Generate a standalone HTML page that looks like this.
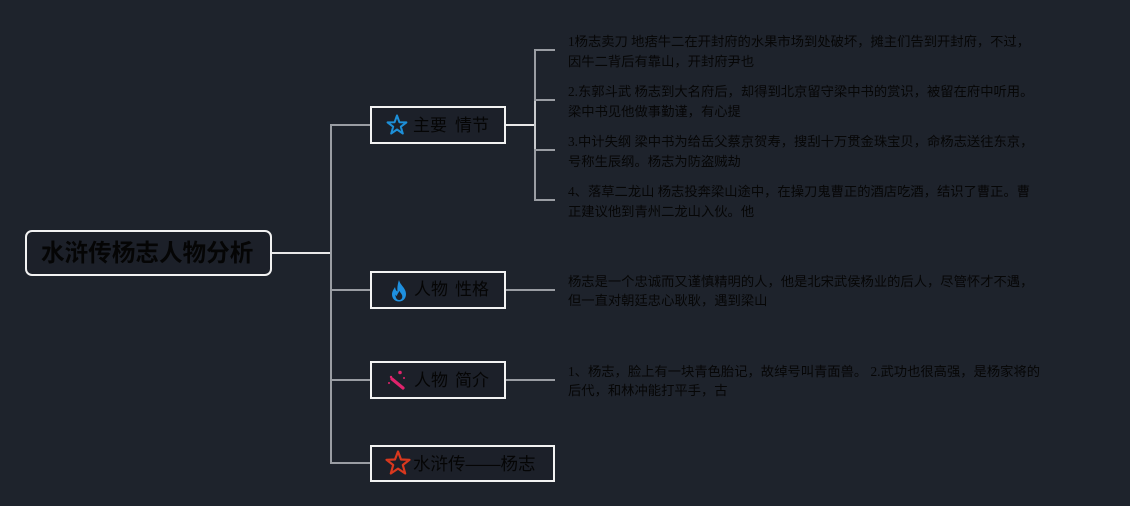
<!DOCTYPE html>
<html>
<head>
<meta charset="utf-8">
<style>
  html,body{margin:0;padding:0;}
  body{width:1130px;height:506px;background:#1e232c;position:relative;overflow:hidden;
    font-family:"Liberation Sans","Noto Sans CJK SC",sans-serif;}
  .box{position:absolute;border:2px solid #f2f2f2;box-sizing:border-box;background:#1c2029;}
  .t{position:absolute;white-space:nowrap;color:#050505;}
  .w{position:absolute;font-size:17px;line-height:20px;color:#050505;white-space:nowrap;
     font-family:"Liberation Sans","Noto Sans CJK SC",sans-serif;}
  .p{position:absolute;font-size:13.3px;white-space:nowrap;color:#060606;
     font-family:"Liberation Serif","Noto Sans CJK SC",sans-serif;}
</style>
</head>
<body>
<svg width="1130" height="506" style="position:absolute;left:0;top:0" xmlns="http://www.w3.org/2000/svg">
  <g fill="none" stroke-width="2">
    <line x1="272" y1="253" x2="332" y2="253" stroke="#e8e8e8"/>
    <line x1="331" y1="124" x2="331" y2="464" stroke="#9a9da3"/>
    <line x1="330" y1="125" x2="371" y2="125" stroke="#9a9da3"/>
    <line x1="330" y1="290" x2="371" y2="290" stroke="#9a9da3"/>
    <line x1="330" y1="380" x2="371" y2="380" stroke="#9a9da3"/>
    <line x1="330" y1="463" x2="371" y2="463" stroke="#9a9da3"/>
    <line x1="505" y1="125" x2="536" y2="125" stroke="#e8e8e8"/>
    <line x1="535" y1="49" x2="535" y2="201" stroke="#9a9da3"/>
    <line x1="535" y1="100" x2="535" y2="150" stroke="#c8cacd"/>
    <line x1="534" y1="50" x2="555" y2="50" stroke="#9a9da3"/>
    <line x1="534" y1="100" x2="555" y2="100" stroke="#9a9da3"/>
    <line x1="534" y1="150" x2="555" y2="150" stroke="#9a9da3"/>
    <line x1="534" y1="200" x2="555" y2="200" stroke="#9a9da3"/>
    <line x1="505" y1="290" x2="555" y2="290" stroke="#9a9da3"/>
    <line x1="505" y1="380" x2="555" y2="380" stroke="#9a9da3"/>
  </g>
</svg>

<!-- root -->
<div class="box" style="left:25px;top:230px;width:247px;height:46px;border-radius:7px;"></div>
<div class="t" style="left:41px;top:239px;font-size:23.6px;line-height:30px;font-weight:bold;">水浒传杨志人物分析</div>

<!-- box 1 -->
<div class="box" style="left:370px;top:106px;width:136px;height:38px;"></div>
<svg width="24" height="24" style="position:absolute;left:385px;top:113px" viewBox="0 0 24 24">
  <polygon points="12,2.5 14.4,9.2 21.4,9.4 15.8,13.7 17.8,20.5 12,16.5 6.2,20.5 8.2,13.7 2.6,9.4 9.6,9.2" fill="none" stroke="#1d8fd8" stroke-width="2" stroke-linejoin="round"/>
</svg>
<div class="w" style="left:413px;top:116px;">主要</div>
<div class="w" style="left:455px;top:116px;">情节</div>

<!-- box 2 -->
<div class="box" style="left:370px;top:271px;width:136px;height:38px;"></div>
<svg width="20" height="24" style="position:absolute;left:389px;top:279px" viewBox="0 0 20 24">
  <path d="M10 1 C11 6 17 9 17 15 C17 19.5 14 22.5 10 22.5 C6 22.5 3 19.5 3 15.5 C3 12 5 10 6 8 C6.5 11 7.5 12 8.5 12.5 C8 8 9 4 10 1 Z M10 21 C12 21 13.3 19.6 13.3 17.6 C13.3 15.2 11 13.5 10.2 11.8 C9.8 14 8 15 8 17 C7 16.5 6.7 16 6.5 15.5 C6.3 16.5 6.7 21 10 21 Z" fill="#1e90e0" fill-rule="evenodd"/>
</svg>
<div class="w" style="left:414px;top:280px;">人物</div>
<div class="w" style="left:455px;top:280px;">性格</div>

<!-- box 3 -->
<div class="box" style="left:370px;top:361px;width:136px;height:38px;"></div>
<svg width="22" height="22" style="position:absolute;left:386px;top:369px" viewBox="0 0 22 22">
  <line x1="6" y1="10" x2="17" y2="19" stroke="#e0236c" stroke-width="3.2" stroke-linecap="round"/>
  <circle cx="14" cy="3.5" r="1.8" fill="#e0236c"/>
  <circle cx="5" cy="8" r="1.2" fill="#e0236c"/>
  <circle cx="18" cy="9" r="1" fill="#e0236c"/>
  <circle cx="3" cy="14" r="1" fill="#e0236c"/>
</svg>
<div class="w" style="left:414px;top:371px;">人物</div>
<div class="w" style="left:455px;top:371px;">简介</div>

<!-- box 4 -->
<div class="box" style="left:370px;top:445px;width:185px;height:37px;"></div>
<svg width="28" height="28" style="position:absolute;left:384px;top:449px" viewBox="0 0 28 28">
  <polygon points="14,2.5 17,10.5 25.5,10.8 18.8,16 21.2,24.5 14,19.6 6.8,24.5 9.2,16 2.5,10.8 11,10.5" fill="none" stroke="#d9381e" stroke-width="2.2" stroke-linejoin="round"/>
</svg>
<div class="w" style="left:413px;top:454px;font-size:17.5px;">水浒传——杨志</div>

<!-- right texts -->
<div class="p" style="left:568px;top:32px;line-height:20px;">1杨志卖刀 地痞牛二在开封府的水果市场到处破坏，摊主们告到开封府，不过，<br>因牛二背后有靠山，开封府尹也</div>
<div class="p" style="left:568px;top:82px;line-height:20px;">2.东郭斗武 杨志到大名府后，却得到北京留守梁中书的赏识，被留在府中听用。<br>梁中书见他做事勤谨，有心提</div>
<div class="p" style="left:568px;top:132px;line-height:20px;">3.中计失纲 梁中书为给岳父蔡京贺寿，搜刮十万贯金珠宝贝，命杨志送往东京，<br>号称生辰纲。杨志为防盗贼劫</div>
<div class="p" style="left:568px;top:182px;line-height:20px;">4、落草二龙山 杨志投奔梁山途中，在操刀鬼曹正的酒店吃酒，结识了曹正。曹<br>正建议他到青州二龙山入伙。他</div>
<div class="p" style="left:568px;top:272px;line-height:19px;">杨志是一个忠诚而又谨慎精明的人，他是北宋武侯杨业的后人，尽管怀才不遇，<br>但一直对朝廷忠心耿耿，遇到梁山</div>
<div class="p" style="left:568px;top:362px;line-height:19px;">1、杨志，脸上有一块青色胎记，故绰号叫青面兽。 2.武功也很高强，是杨家将的<br>后代，和林冲能打平手，古</div>
</body>
</html>
